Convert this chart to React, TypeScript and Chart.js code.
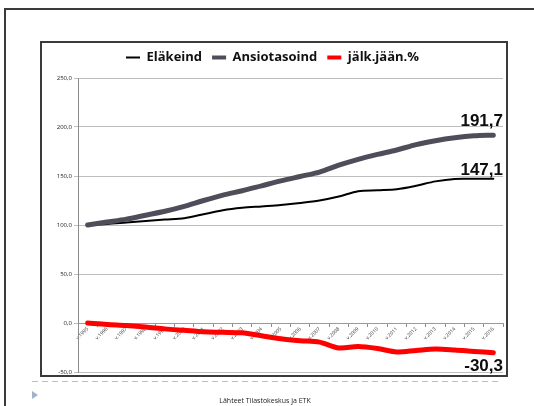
import React, { useEffect, useRef } from 'react';
import { Chart, registerables } from 'chart.js';

Chart.register(...registerables);

const categories = [
  'v.1995', 'v.1996', 'v.1997', 'v.1998', 'v.1999', 'v.2000', 'v.2001', 'v.2002',
  'v.2003', 'v.2004', 'v.2005', 'v.2006', 'v.2007', 'v.2008', 'v.2009', 'v.2010',
  'v.2011', 'v.2012', 'v.2013', 'v.2014', 'v.2015', 'v.2016',
];
const elakeind = [
  100, 101, 102.5, 104, 105.5, 107, 111, 115, 117.5, 119, 120.5, 122.5,
  125, 129, 134.5, 135.5, 136.5, 140, 144.5, 147, 147.1, 147.1,
];
const ansiotasoind = [
  100, 103, 106, 110, 114, 119, 125, 130.5, 135, 140, 145, 149.5,
  154, 161, 167, 172, 176.5, 182, 186, 189, 191, 191.7,
];
const jalkJaan = [
  0, -1.5, -2.5, -4, -6, -7.5, -9, -9.5, -10, -13, -16, -18,
  -19.5, -25.5, -24, -26, -29.5, -28, -26.5, -27.5, -29, -30.3,
];
const seriesNames = ['Eläkeind', 'Ansiotasoind', 'jälk.jään.%'];
const yTicks = [-50, 0, 50, 100, 150, 200, 250];
const endLabels = ['191,7', '147,1', '-30,3'];
const endLabelLevels = [200, 150, -50];
const sourceText = 'Lähteet Tilastokeskus ja ETK';

const colors = ['#000000', '#4e4e5a', '#ff0000'];
const widths = [2, 5, 5];
const legendWidths = [2, 4, 4];

const endLabelPlugin = {
  id: 'endLabels',
  afterDatasetsDraw(chart: any) {
    const { ctx, chartArea, scales } = chart;
    ctx.save();
    ctx.font = 'bold 17px "Liberation Sans"';
    ctx.fillStyle = '#0d0d0d';
    ctx.textAlign = 'right';
    ctx.textBaseline = 'alphabetic';
    endLabels.forEach((t, i) => {
      ctx.fillText(t, chartArea.right, scales.y.getPixelForValue(endLabelLevels[i]) - 1);
    });
    ctx.restore();
  },
};

export default function App() {
  const ref = useRef<HTMLCanvasElement | null>(null);

  useEffect(() => {
    if (!ref.current) return;
    const data = [elakeind, ansiotasoind, jalkJaan];
    const chart = new Chart(ref.current, {
      type: 'line',
      data: {
        labels: categories,
        datasets: data.map((d, i) => ({
          label: seriesNames[i],
          data: d,
          borderColor: colors[i],
          backgroundColor: colors[i],
          borderWidth: widths[i],
          pointRadius: 0,
          tension: 0.3,
          borderCapStyle: 'round' as const,
          borderJoinStyle: 'round' as const,
          order: 3 - i,
        })),
      },
      options: {
        responsive: false,
        animation: false,
        layout: { padding: { left: 0, right: 3, top: -2, bottom: 11 } },
        plugins: {
          tooltip: { enabled: false },
          title: {
            display: true,
            text: '',
            weight: 500,
            font: { size: 1, lineHeight: 1 },
            padding: { top: 3, bottom: 0 },
          } as any,
          legend: {
            display: true,
            position: 'top',
            labels: {
              usePointStyle: true,
              pointStyleWidth: 14,
              boxHeight: 10,
              padding: 10,
              color: '#111111',
              font: { family: 'Open Sans', weight: 'bold', size: 13 },
              generateLabels: (c: any) =>
                c.data.datasets.map((ds: any, i: number) => ({
                  text: ds.label,
                  fillStyle: colors[i],
                  strokeStyle: colors[i],
                  lineWidth: legendWidths[i],
                  pointStyle: 'line',
                  hidden: false,
                  datasetIndex: i,
                  fontColor: '#111111',
                })),
            },
          },
        },
        scales: {
          x: {
            type: 'category',
            position: { y: 0 } as any,
            offset: true,
            grid: {
              display: true,
              drawOnChartArea: false,
              drawTicks: true,
              tickLength: 3,
              color: '#8c8c8c',
              offset: true,
            },
            border: { display: true, color: '#9a9a9a', width: 1 },
            ticks: {
              autoSkip: false,
              minRotation: 45,
              maxRotation: 45,
              padding: 0,
              color: '#333333',
              font: { family: 'Open Sans', size: 5 },
            },
          },
          y: {
            type: 'linear',
            min: -50,
            max: 250,
            afterBuildTicks: (s: any) => {
              s.ticks = yTicks.map((v) => ({ value: v }));
            },
            afterFit: (s: any) => {
              s.width = 36;
            },
            grid: {
              color: '#bdbdbd',
              lineWidth: 1,
              drawTicks: true,
              tickLength: 4,
            },
            border: { display: true, color: '#8c8c8c', width: 1 },
            ticks: {
              padding: 2,
              color: '#222222',
              font: { family: 'Open Sans', size: 6 },
              callback: (v: any) => Number(v).toFixed(1).replace('.', ','),
            },
          },
        },
      },
      plugins: [endLabelPlugin],
    });
    return () => chart.destroy();
  }, []);

  return (
    <div
      style={{
        position: 'fixed',
        left: 0,
        top: 0,
        width: 534,
        height: 406,
        overflow: 'hidden',
        background: '#ffffff',
        fontFamily: 'Open Sans, sans-serif',
      }}
    >
      <div
        style={{
          position: 'absolute',
          left: 4,
          top: 8,
          width: 700,
          height: 600,
          borderLeft: '2px solid #3a3a3a',
          borderTop: '2px solid #3a3a3a',
        }}
      />
      <div
        style={{
          position: 'absolute',
          left: 40,
          top: 41,
          width: 468,
          height: 336,
          boxSizing: 'border-box',
          border: '2px solid #3a3a3a',
        }}
      >
        <canvas ref={ref} width={464} height={340} style={{ display: 'block', width: 464, height: 340 }} />
      </div>
      <div
        style={{
          position: 'absolute',
          left: 32,
          top: 381,
          width: 470,
          height: 1,
          backgroundImage: 'repeating-linear-gradient(to right, #a8c3df 0 6px, transparent 6px 10px)',
        }}
      />
      <div
        style={{
          position: 'absolute',
          left: 32,
          top: 391,
          width: 0,
          height: 0,
          borderTop: '4px solid transparent',
          borderBottom: '4px solid transparent',
          borderLeft: '6px solid #9fb4cc',
        }}
      />
      <div
        style={{
          position: 'absolute',
          left: 0,
          top: 396,
          width: 530,
          textAlign: 'center',
          fontSize: 7,
          lineHeight: '9px',
          color: '#222222',
        }}
      >
        {sourceText}
      </div>
    </div>
  );
}
